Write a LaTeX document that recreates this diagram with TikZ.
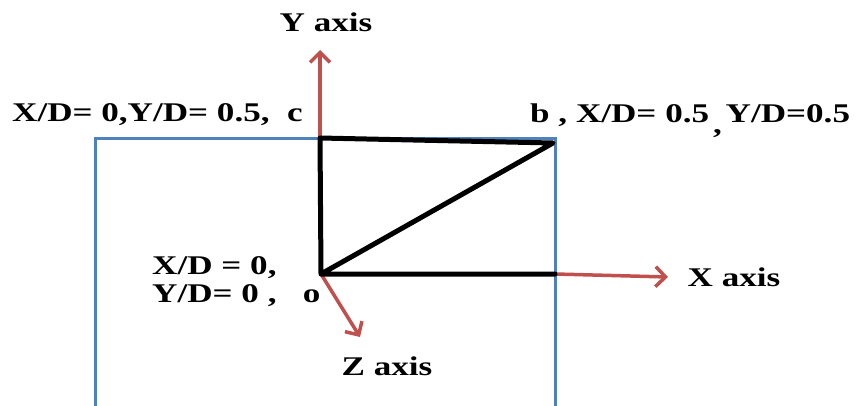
\documentclass[tikz,border=0pt]{standalone}
\usepackage{fontspec}
\usepackage{graphicx}
\setmainfont{Liberation Serif}
\usetikzlibrary{arrows.meta}
\definecolor{offblue}{RGB}{79,129,189}
\definecolor{offred}{RGB}{192,80,77}
\newcommand{\wide}[1]{\scalebox{1.3}[1]{#1}}
\begin{document}
\begin{tikzpicture}[x=1pt,y=-1pt,
  lbl/.style={font=\fontsize{27}{31}\selectfont\bfseries, inner sep=0pt},
  blueline/.style={draw=offblue, line width=3pt},
  blackline/.style={draw=black, line width=5pt, line cap=round, line join=round},
  axisarrow/.style={draw=offred, line width=3.5pt, -{Straight Barb[length=10pt,width=20pt,line width=3.5pt]}}]
\useasboundingbox (0,0) rectangle (859,406);
% blue frame
\coordinate (bl) at (95,406);
\coordinate (tl) at (95,139);
\coordinate (tr) at (555,139);
\coordinate (br) at (555,406);
\draw[blueline] (bl) -- (tl) -- (tr) -- (br);
% square corners
\coordinate (c) at (320,138);
\coordinate (b) at (553,143);
\coordinate (o) at (321,274);
\coordinate (r) at (555,274);
% axes
\coordinate (ytip) at (320,50);
\coordinate (xtip) at (668,277);
\coordinate (ztip) at (360,337);
\draw[axisarrow] (c) -- (ytip);
\draw[axisarrow] (r) -- (xtip);
\draw[axisarrow] (o) -- (ztip);
% black square and diagonal
\draw[blackline] (r) -- (o) -- (c) -- (b) -- (o);
% labels
\node[lbl] (ylab) at (326,22) {\wide{Y axis}};
\node[lbl] (xlab) at (734,277) {\wide{X axis}};
\node[lbl] (zlab) at (387,366) {\wide{Z axis}};
\node[lbl, anchor=west] (clab) at (12,115) {\wide{X/D= 0,Y/D= 0.5,\ \ c}};
\node[lbl, anchor=west] (blab) at (530,115) {\wide{b , X/D= 0.5\hspace{3pt}\raisebox{-11pt}[0pt][0pt]{,}\hspace{3pt}Y/D=0.5}};
\node[lbl, anchor=west] (olab1) at (152,268) {\wide{X/D = 0,}};
\node[lbl, anchor=west] (olab2) at (152,296) {\wide{Y/D= 0 ,\ \ \ o}};
\end{tikzpicture}
\end{document}
